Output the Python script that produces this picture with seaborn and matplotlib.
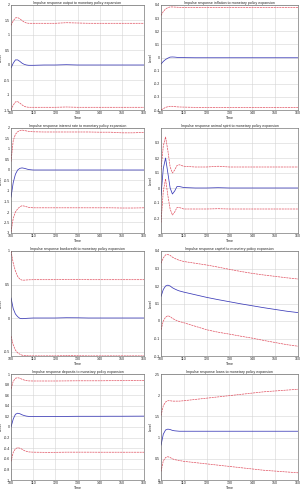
import matplotlib
matplotlib.use("Agg")
import matplotlib.pyplot as plt
import seaborn as sns
import pandas as pd

# ---------------- data ----------------
periods = [100, 101, 102, 103, 104, 105, 106, 107, 108, 110, 115, 120, 125, 130, 135, 140, 145, 150, 155, 160]

titles = [
    "Impulse response output to monetary policy expansion",
    "Impulse response inflation to monetary policy expansion",
    "Impulse response interest rate to monetary policy expansion",
    "Impulse response animal spirit to monetary policy expansion",
    "Impulse response bankcredit to monetary policy expansion",
    "Impulse response capital to monetary policy expansion",
    "Impulse response deposits to monetary policy expansion",
    "Impulse response loans to monetary policy expansion",
]

output_upper = [1.32, 1.47, 1.57, 1.58, 1.54, 1.48, 1.43, 1.40, 1.39, 1.39, 1.39, 1.39, 1.41, 1.40, 1.39, 1.39, 1.39, 1.39, 1.39, 1.39]
output_mid   = [-0.10, 0.06, 0.17, 0.17, 0.12, 0.06, 0.02, 0.00, -0.01, -0.01, 0.00, 0.00, 0.01, 0.00, 0.00, 0.00, 0.00, 0.00, 0.00, 0.00]
output_lower = [-1.50, -1.34, -1.23, -1.22, -1.27, -1.33, -1.38, -1.40, -1.41, -1.41, -1.41, -1.41, -1.40, -1.41, -1.41, -1.41, -1.41, -1.41, -1.41, -1.41]

infl_upper = [0.32, 0.35, 0.37, 0.38, 0.385, 0.385, 0.384, 0.383, 0.382, 0.382, 0.382, 0.382, 0.382, 0.382, 0.382, 0.382, 0.382, 0.382, 0.382, 0.382]
infl_mid   = [-0.05, -0.03, -0.015, -0.005, 0.003, 0.004, 0.003, 0.001, 0.0, -0.001, -0.002, -0.002, -0.002, -0.002, -0.002, -0.002, -0.002, -0.002, -0.002, -0.002]
infl_lower = [-0.40, -0.39, -0.38, -0.375, -0.372, -0.372, -0.374, -0.376, -0.377, -0.378, -0.38, -0.38, -0.38, -0.38, -0.38, -0.38, -0.38, -0.38, -0.38, -0.38]

rate_upper = [0.40, 1.40, 1.70, 1.82, 1.88, 1.90, 1.88, 1.86, 1.84, 1.82, 1.81, 1.81, 1.81, 1.81, 1.81, 1.80, 1.80, 1.77, 1.77, 1.79]
rate_mid   = [-1.30, -0.60, -0.20, 0.00, 0.08, 0.10, 0.08, 0.05, 0.02, 0.00, 0.00, 0.00, 0.00, 0.00, 0.00, 0.00, 0.00, 0.00, 0.00, 0.00]
rate_lower = [-2.95, -2.30, -2.00, -1.85, -1.75, -1.70, -1.72, -1.75, -1.78, -1.80, -1.80, -1.80, -1.80, -1.80, -1.80, -1.80, -1.80, -1.81, -1.81, -1.80]

anim_upper = [0.12, 0.28, 0.34, 0.25, 0.14, 0.10, 0.12, 0.15, 0.155, 0.145, 0.14, 0.14, 0.145, 0.14, 0.14, 0.14, 0.14, 0.14, 0.14, 0.14]
anim_mid   = [-0.05, 0.13, 0.20, 0.10, 0.00, -0.04, -0.02, 0.01, 0.01, 0.003, 0.0, 0.0, 0.002, 0.0, 0.0, 0.0, 0.0, 0.0, 0.0, 0.0]
anim_lower = [-0.23, -0.02, 0.06, -0.05, -0.14, -0.18, -0.16, -0.13, -0.13, -0.14, -0.14, -0.14, -0.138, -0.14, -0.14, -0.14, -0.14, -0.14, -0.14, -0.14]

bank_upper = [1.00, 0.82, 0.70, 0.62, 0.58, 0.565, 0.565, 0.568, 0.57, 0.572, 0.572, 0.572, 0.575, 0.575, 0.572, 0.572, 0.572, 0.572, 0.572, 0.572]
bank_mid   = [0.30, 0.14, 0.06, 0.02, -0.005, -0.01, -0.008, -0.005, -0.003, 0.0, 0.0, 0.0, 0.004, 0.003, 0.0, 0.0, 0.0, 0.0, 0.0, 0.0]
bank_lower = [-0.27, -0.40, -0.48, -0.52, -0.54, -0.555, -0.56, -0.562, -0.564, -0.565, -0.565, -0.565, -0.562, -0.563, -0.565, -0.565, -0.565, -0.565, -0.565, -0.565]

cap_upper = [0.33, 0.36, 0.378, 0.38, 0.375, 0.365, 0.358, 0.352, 0.347, 0.34, 0.33, 0.32, 0.308, 0.295, 0.283, 0.272, 0.263, 0.255, 0.247, 0.24]
cap_mid   = [0.14, 0.18, 0.20, 0.205, 0.20, 0.19, 0.183, 0.177, 0.172, 0.165, 0.15, 0.135, 0.122, 0.11, 0.098, 0.087, 0.076, 0.066, 0.056, 0.048]
cap_lower = [-0.05, 0.0, 0.022, 0.03, 0.025, 0.015, 0.008, 0.002, -0.003, -0.01, -0.03, -0.05, -0.064, -0.075, -0.087, -0.098, -0.111, -0.123, -0.135, -0.144]

dep_upper = [0.72, 0.86, 0.92, 0.93, 0.92, 0.90, 0.885, 0.875, 0.87, 0.868, 0.868, 0.868, 0.87, 0.872, 0.872, 0.872, 0.874, 0.874, 0.875, 0.876]
dep_mid   = [0.00, 0.15, 0.24, 0.26, 0.25, 0.23, 0.215, 0.205, 0.20, 0.198, 0.198, 0.198, 0.20, 0.202, 0.202, 0.202, 0.203, 0.203, 0.204, 0.205]
dep_lower = [-0.65, -0.48, -0.41, -0.39, -0.40, -0.42, -0.445, -0.46, -0.47, -0.475, -0.478, -0.478, -0.475, -0.475, -0.475, -0.476, -0.476, -0.476, -0.476, -0.476]

loan_upper = [1.52, 1.75, 1.84, 1.87, 1.87, 1.86, 1.86, 1.86, 1.86, 1.87, 1.90, 1.93, 1.96, 1.99, 2.02, 2.05, 2.08, 2.10, 2.12, 2.14]
loan_mid   = [0.82, 1.08, 1.18, 1.20, 1.19, 1.17, 1.16, 1.155, 1.15, 1.15, 1.15, 1.15, 1.15, 1.15, 1.15, 1.15, 1.15, 1.15, 1.15, 1.15]
loan_lower = [0.20, 0.45, 0.53, 0.55, 0.53, 0.50, 0.48, 0.47, 0.46, 0.44, 0.41, 0.38, 0.35, 0.32, 0.29, 0.26, 0.23, 0.21, 0.19, 0.17]

series = [
    (output_upper, output_mid, output_lower),
    (infl_upper, infl_mid, infl_lower),
    (rate_upper, rate_mid, rate_lower),
    (anim_upper, anim_mid, anim_lower),
    (bank_upper, bank_mid, bank_lower),
    (cap_upper, cap_mid, cap_lower),
    (dep_upper, dep_mid, dep_lower),
    (loan_upper, loan_mid, loan_lower),
]

ylims = [(-1.5, 2.0), (-0.4, 0.4), (-3.0, 2.0), (-0.3, 0.4), (-0.567, 1.0), (-0.2, 0.4), (-1.0, 1.0), (0.0, 2.5)]
yticks = [
    [-1.5, -1, -0.5, 0, 0.5, 1, 1.5, 2],
    [-0.4, -0.3, -0.2, -0.1, 0, 0.1, 0.2, 0.3, 0.4],
    [-3, -2.5, -2, -1.5, -1, -0.5, 0, 0.5, 1, 1.5, 2],
    [-0.2, -0.1, 0, 0.1, 0.2, 0.3],
    [-0.5, 0, 0.5, 1],
    [-0.2, -0.1, 0, 0.1, 0.2, 0.3, 0.4],
    [-1, -0.8, -0.6, -0.4, -0.2, 0, 0.2, 0.4, 0.6, 0.8, 1],
    [0, 0.5, 1, 1.5, 2, 2.5],
]
xticks = [100, 110, 120, 130, 140, 150, 160]

# ---------------- figure ----------------
sns.set_style("whitegrid")
plt.rcParams["font.family"] = ["Liberation Sans", "DejaVu Sans"]

W, H = 300, 491
fig = plt.figure(figsize=(W / 100, H / 100), dpi=100)
fig.patch.set_facecolor("white")

cols = [(11, 144), (161, 298)]
rows = [(5, 110), (128, 233), (251, 356), (374, 480)]

fs = 2.6
for i in range(8):
    r, c = divmod(i, 2)
    x0, x1 = cols[c]
    y0, y1 = rows[r]
    ax = fig.add_axes([x0 / W, 1 - y1 / H, (x1 - x0) / W, (y1 - y0) / H])
    up, mid, lo = series[i]
    df = pd.DataFrame({"Time": periods, "up": up, "mid": mid, "lo": lo})
    sns.lineplot(data=df, x="Time", y="up", ax=ax, color="#e05060", lw=0.5, linestyle=(0, (3, 1)))
    sns.lineplot(data=df, x="Time", y="lo", ax=ax, color="#e05060", lw=0.5, linestyle=(0, (3, 1)))
    sns.lineplot(data=df, x="Time", y="mid", ax=ax, color="#3a3ab8", lw=0.55)
    ax.set_xlim(100, 160)
    ax.set_ylim(*ylims[i])
    ax.set_xticks(xticks)
    ax.set_yticks(yticks[i])
    ax.set_yticklabels(["%g" % v for v in yticks[i]])
    ax.set_xticklabels([str(v) for v in xticks])
    ax.tick_params(labelsize=fs, length=1, width=0.3, pad=0.8, direction="in")
    ax.grid(True, color="#d4d4d4", lw=0.4)
    for s in ax.spines.values():
        s.set_color("#555555")
        s.set_linewidth(0.4)
    ax.set_title(titles[i], fontsize=fs, pad=1.0)
    ax.set_xlabel("Time", fontsize=fs, labelpad=0.5)
    ax.set_ylabel("Level", fontsize=fs)
    ax.yaxis.set_label_coords(-8.0 / (x1 - x0), 0.5)

fig.savefig("out.png", dpi=100, facecolor="white")
